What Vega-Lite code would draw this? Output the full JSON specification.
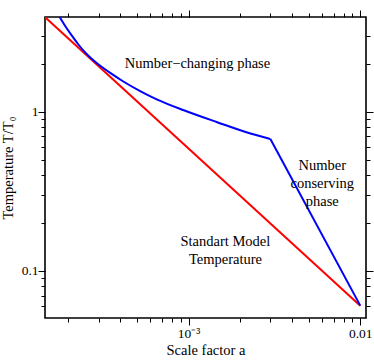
{
  "$schema": "https://vega.github.io/schema/vega-lite/v6.json",
  "autosize": "none",
  "width": 321,
  "height": 301,
  "padding": {"left": 45, "top": 17, "right": 8, "bottom": 43},
  "background": "white",
  "config": {
    "view": {"stroke": "black", "strokeWidth": 1.6},
    "font": "Liberation Serif",
    "axis": {
      "domain": false,
      "grid": false,
      "ticks": true,
      "tickColor": "black",
      "tickWidth": 1,
      "labelFont": "Liberation Serif",
      "labelFontSize": 13.5,
      "labelColor": "black",
      "titleFont": "Liberation Serif",
      "titleFontSize": 14.5,
      "titleFontWeight": "normal",
      "titleColor": "black",
      "labelOverlap": false,
      "labelFlush": false
    }
  },
  "datasets": {
    "lines": [
      {"a": 0.00014, "T": 4.10, "series": "Standard"},
      {"a": 0.01, "T": 0.0605, "series": "Standard"},
      {"a": 0.0001685, "T": 4.36, "series": "Number-changing"},
      {"a": 0.0001778, "T": 3.938, "series": "Number-changing"},
      {"a": 0.0001901, "T": 3.500, "series": "Number-changing"},
      {"a": 0.000208, "T": 3.038, "series": "Number-changing"},
      {"a": 0.0002272, "T": 2.666, "series": "Number-changing"},
      {"a": 0.0002485, "T": 2.378, "series": "Number-changing"},
      {"a": 0.0002718, "T": 2.162, "series": "Number-changing"},
      {"a": 0.000297, "T": 1.996, "series": "Number-changing"},
      {"a": 0.0003553, "T": 1.735, "series": "Number-changing"},
      {"a": 0.000415, "T": 1.555, "series": "Number-changing"},
      {"a": 0.0005259, "T": 1.344, "series": "Number-changing"},
      {"a": 0.0006577, "T": 1.193, "series": "Number-changing"},
      {"a": 0.000939, "T": 1.022, "series": "Number-changing"},
      {"a": 0.001468, "T": 0.860, "series": "Number-changing"},
      {"a": 0.002293, "T": 0.730, "series": "Number-changing"},
      {"a": 0.002997, "T": 0.674, "series": "Number-changing"},
      {"a": 0.002997, "T": 0.674, "series": "Number-conserving"},
      {"a": 0.01, "T": 0.0605, "series": "Number-conserving"}
    ],
    "notes": [
      {"a": 0.001127, "T": 2.0, "label": ["Number\u2212changing phase"]},
      {"a": 0.00601, "T": 0.457, "label": ["Number", "conserving", "phase"]},
      {"a": 0.00164, "T": 0.152, "label": ["Standart Model", "Temperature"]}
    ]
  },
  "resolve": {"axis": {"x": "independent", "y": "independent"}},
  "layer": [
    {
      "data": {"name": "lines"},
      "mark": {"type": "line", "strokeWidth": 2, "clip": true, "interpolate": "monotone"},
      "encoding": {
        "x": {
          "field": "a",
          "type": "quantitative",
          "scale": {"type": "log", "domain": [0.000146, 0.0108], "nice": false},
          "axis": {
            "orient": "bottom",
            "title": "Scale factor a",
            "values": [0.0002, 0.0003, 0.0004, 0.0005, 0.0006, 0.0007, 0.0008, 0.0009, 0.001, 0.002, 0.003, 0.004, 0.005, 0.006, 0.007, 0.008, 0.009, 0.01],
            "labelExpr": "datum.value == 0.001 ? '10\u207b\u00b3' : (datum.value == 0.01 ? '0.01' : '')",
            "tickSize": 4,
            "labelPadding": 4,
            "titlePadding": 4
          }
        },
        "y": {
          "field": "T",
          "type": "quantitative",
          "scale": {"type": "log", "domain": [0.0506, 3.94], "nice": false},
          "axis": {
            "orient": "left",
            "title": "Temperature T/T\u2080",
            "values": [0.06, 0.07, 0.08, 0.09, 0.1, 0.2, 0.3, 0.4, 0.5, 0.6, 0.7, 0.8, 0.9, 1, 2, 3],
            "labelExpr": "datum.value == 0.1 ? '0.1' : (datum.value == 1 ? '1' : '')",
            "tickSize": 4,
            "labelPadding": 3,
            "titlePadding": 6
          }
        },
        "color": {
          "field": "series",
          "type": "nominal",
          "scale": {"domain": ["Number-changing", "Number-conserving", "Standard"], "range": ["#0000ff", "#0000ff", "#ff0000"]},
          "legend": null
        }
      }
    },
    {
      "data": {"name": "notes"},
      "mark": {"type": "text", "font": "Liberation Serif", "fontSize": 14.5, "lineHeight": 18, "align": "center", "baseline": "middle", "color": "black"},
      "encoding": {
        "x": {
          "field": "a",
          "type": "quantitative",
          "axis": {
            "orient": "top",
            "title": null,
            "labels": false,
            "values": [0.0002, 0.0003, 0.0004, 0.0005, 0.0006, 0.0007, 0.0008, 0.0009, 0.001, 0.002, 0.003, 0.004, 0.005, 0.006, 0.007, 0.008, 0.009, 0.01],
            "tickSize": 4
          }
        },
        "y": {
          "field": "T",
          "type": "quantitative",
          "axis": {
            "orient": "right",
            "title": null,
            "labels": false,
            "values": [0.06, 0.07, 0.08, 0.09, 0.1, 0.2, 0.3, 0.4, 0.5, 0.6, 0.7, 0.8, 0.9, 1, 2, 3],
            "tickSize": 4
          }
        },
        "text": {"field": "label"}
      }
    },
    {
      "data": {"name": "notes"},
      "mark": {"type": "point", "opacity": 0},
      "encoding": {
        "x": {
          "field": "a",
          "type": "quantitative",
          "axis": {"orient": "bottom", "title": null, "labels": false, "values": [0.001, 0.01], "tickSize": 7}
        },
        "y": {
          "field": "T",
          "type": "quantitative",
          "axis": {"orient": "left", "title": null, "labels": false, "values": [0.1, 1], "tickSize": 7}
        }
      }
    },
    {
      "data": {"name": "notes"},
      "mark": {"type": "point", "opacity": 0},
      "encoding": {
        "x": {
          "field": "a",
          "type": "quantitative",
          "axis": {"orient": "top", "title": null, "labels": false, "values": [0.001, 0.01], "tickSize": 7}
        },
        "y": {
          "field": "T",
          "type": "quantitative",
          "axis": {"orient": "right", "title": null, "labels": false, "values": [0.1, 1], "tickSize": 7}
        }
      }
    }
  ]
}
